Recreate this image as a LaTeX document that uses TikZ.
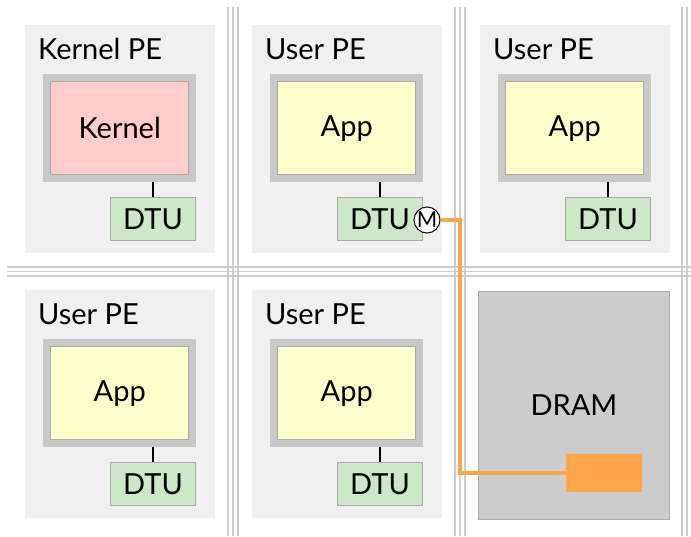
\documentclass[tikz,border=0pt]{standalone}
\usepackage{fontspec}
\setmainfont{Lato}
\definecolor{pebg}{HTML}{F0F0F0}
\definecolor{framegray}{HTML}{C8C8C8}
\definecolor{innerline}{HTML}{AAAAAA}
\definecolor{kernelpink}{HTML}{FFCCCC}
\definecolor{appyellow}{HTML}{FFFFCC}
\definecolor{dtugreen}{HTML}{CCE8C6}
\definecolor{busgray}{HTML}{CCCCCC}
\definecolor{dramgray}{HTML}{CCCCCC}
\definecolor{memorange}{HTML}{FFA54C}
\tikzset{
  pebox/.style={fill=pebg, draw=none, anchor=north west, minimum width=190pt, minimum height=228pt, inner sep=0pt},
  pelabel/.style={anchor=base west, inner sep=0pt, font=\fontsize{29}{31}\selectfont},
  framebox/.style={fill=framegray, draw=none, anchor=north west, minimum width=153pt, minimum height=108pt, inner sep=0pt},
  innerbox/.style={draw=innerline, line width=1pt, minimum width=138pt, minimum height=93pt, inner sep=0pt, font=\fontsize{29}{31}\selectfont},
  dtubox/.style={fill=dtugreen, draw=innerline, line width=1pt, anchor=north east, minimum width=85pt, minimum height=43pt, inner sep=0pt, font=\fontsize{29}{31}\selectfont},
  conn/.style={draw=black, line width=1.5pt},
  busline/.style={draw=busgray, line width=1.5pt},
  drambox/.style={fill=dramgray, draw=innerline, line width=1pt, anchor=north west, minimum width=191pt, minimum height=228pt, inner sep=0pt, font=\fontsize{29}{31}\selectfont},
  membox/.style={fill=memorange, draw=none, minimum width=76pt, minimum height=38pt, inner sep=0pt},
  memline/.style={draw=memorange, line width=3.5pt},
  mcircle/.style={circle, draw=black, fill=white, line width=1pt, minimum size=26pt, inner sep=0pt, font=\fontsize{22}{22}\selectfont}
}
\newcommand\drawpe[6]{%
  \node[pebox] (#1) at (#2,#3) {};
  \node[pelabel] (#1l) at (#2+13,#3+34) {#4};
  \node[framebox] (#1f) at (#2+18,#3+49) {};
  \node[innerbox, fill=#6] (#1a) at (#1f) {#5};
  \node[dtubox] (#1d) at (#2+171,#3+172) {DTU};
  \draw[conn] (#1d.north) -- (#1d.north |- #1f.south);
}
\begin{document}
\begin{tikzpicture}[x=1pt,y=-1pt]
\useasboundingbox (0,0) rectangle (691,536);
% bus lines
\foreach \c in {233,460,687} {
  \draw[busline] (\c-5,7) -- (\c-5,536);
  \draw[busline] (\c,7) -- (\c,536);
  \draw[busline] (\c+5,7) -- (\c+5,536);
}
\draw[busline] (7,267) -- (691,267);
\draw[busline] (7,271.5) -- (691,271.5);
\draw[busline] (7,276) -- (691,276);
% PEs
\drawpe{pea}{25}{25}{Kernel PE}{Kernel}{kernelpink}
\drawpe{peb}{252}{25}{User PE}{App}{appyellow}
\drawpe{pec}{480}{25}{User PE}{App}{appyellow}
\drawpe{ped}{25}{290}{User PE}{App}{appyellow}
\drawpe{pee}{252}{290}{User PE}{App}{appyellow}
% DRAM
\node[drambox] (dram) at (478,291) {DRAM};
\node[membox] (mem) at (604,473) {};
% memory endpoint
\node[mcircle] (m) at (427,220) {M};
\coordinate (bend1) at (460,220);
\coordinate (bend2) at (460,473);
\draw[memline] (m.east) -- (bend1) -- (bend2) -- (mem.west);
\end{tikzpicture}
\end{document}
